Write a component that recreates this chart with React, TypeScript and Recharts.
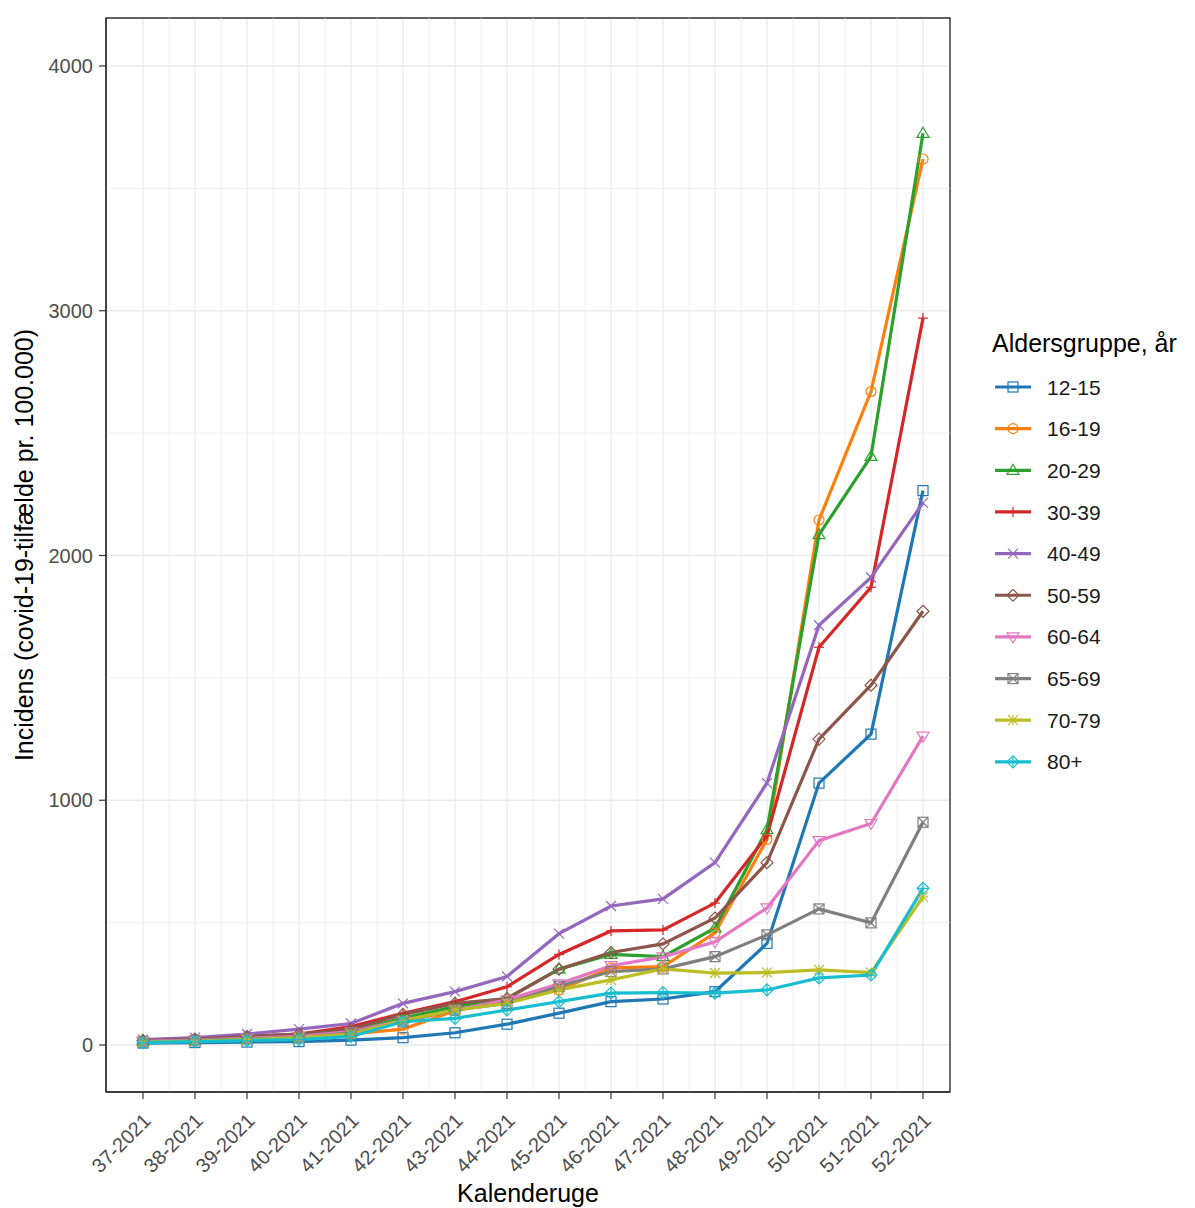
import React from 'react';
import { LineChart, Line, XAxis, YAxis, CartesianGrid, ReferenceLine, ReferenceArea, Label } from 'recharts';

// weeks on the x axis
const WEEKS = [
    '37-2021', '38-2021', '39-2021', '40-2021', '41-2021', '42-2021', '43-2021', '44-2021',
    '45-2021', '46-2021', '47-2021', '48-2021', '49-2021', '50-2021', '51-2021', '52-2021',
];

const GROUPS = ['12-15', '16-19', '20-29', '30-39', '40-49', '50-59', '60-64', '65-69', '70-79', '80+'];

const COLORS = [
    '#1f77b4', '#ff7f0e', '#2ca02c', '#d62728', '#9467bd',
    '#8c564b', '#e377c2', '#7f7f7f', '#bcbd22', '#17becf',
];

// incidence per 100.000
const AGE_12_15 = [8, 10, 12, 14, 20, 30, 50, 85, 130, 177, 188, 218, 415, 1070, 1270, 2265];
const AGE_16_19 = [15, 20, 25, 30, 45, 65, 140, 180, 225, 315, 320, 458, 840, 2145, 2670, 3620];
const AGE_20_29 = [18, 22, 30, 38, 55, 110, 157, 190, 310, 370, 361, 478, 880, 2085, 2405, 3725];
const AGE_30_39 = [20, 25, 35, 45, 75, 130, 177, 238, 370, 466, 470, 580, 855, 1625, 1870, 2970];
const AGE_40_49 = [22, 30, 45, 65, 88, 170, 218, 280, 455, 568, 597, 745, 1070, 1715, 1910, 2215];
const AGE_50_59 = [18, 24, 35, 45, 65, 125, 170, 190, 310, 378, 413, 519, 745, 1250, 1470, 1772];
const AGE_60_64 = [15, 20, 28, 35, 55, 100, 143, 185, 250, 324, 360, 422, 560, 835, 905, 1262];
const AGE_65_69 = [12, 18, 25, 30, 50, 95, 143, 170, 240, 300, 311, 361, 450, 556, 499, 910];
const AGE_70_79 = [12, 16, 22, 30, 45, 100, 143, 170, 225, 266, 311, 294, 296, 307, 296, 605];
const AGE_80P = [10, 14, 18, 22, 35, 95, 109, 143, 177, 212, 214, 212, 225, 274, 286, 640];

const SERIES = [
    AGE_12_15, AGE_16_19, AGE_20_29, AGE_30_39, AGE_40_49,
    AGE_50_59, AGE_60_64, AGE_65_69, AGE_70_79, AGE_80P,
];

const Y_TICKS = [0, 1000, 2000, 3000, 4000];
const Y_MINOR = [500, 1500, 2500, 3500];
const Y_DOMAIN: [number, number] = [-192, 4196];

const FONT = '"Liberation Sans", Arial, sans-serif';
const TEXT_COLOR = '#4d4d4d';
const GRID_COLOR = '#ebebeb';
const LINE_W = 3.2;

// discrete axis padding in px (ggplot expansion), converted to index units for the hidden numeric axis
const PAD_L = 37;
const PAD_R = 27;
const PLOT_W = 844;
const STEP = (PLOT_W - PAD_L - PAD_R) / (WEEKS.length - 1);
const IDX_DOMAIN: [number, number] = [-PAD_L / STEP, WEEKS.length - 1 + PAD_R / STEP];
const X_MINOR = WEEKS.slice(1).map((_, i) => i + 0.5);

const data = WEEKS.map((week, i) => {
    const row: Record<string, string | number> = { week, idx: i };
    GROUPS.forEach((g, k) => {
        row[g] = SERIES[k][i];
    });
    return row;
});

// ggplot shapes 0..9
function Marker({ shape, cx, cy, color }: { shape: number; cx: number; cy: number; color: string }) {
    const r = 5;
    const s = { fill: 'none', stroke: color, strokeWidth: 1.2 };
    const plus = (
        <>
            <line x1={cx - r} y1={cy} x2={cx + r} y2={cy} {...s} />
            <line x1={cx} y1={cy - r} x2={cx} y2={cy + r} {...s} />
        </>
    );
    const cross = (
        <>
            <line x1={cx - r} y1={cy - r} x2={cx + r} y2={cy + r} {...s} />
            <line x1={cx - r} y1={cy + r} x2={cx + r} y2={cy - r} {...s} />
        </>
    );
    const diamond = <polygon points={`${cx},${cy - r - 1} ${cx + r + 1},${cy} ${cx},${cy + r + 1} ${cx - r - 1},${cy}`} {...s} />;
    switch (shape) {
        case 0:
            return <rect x={cx - r} y={cy - r} width={2 * r} height={2 * r} {...s} />;
        case 1:
            return <circle cx={cx} cy={cy} r={r} {...s} />;
        case 2:
            return <polygon points={`${cx},${cy - r - 1} ${cx + r + 1},${cy + r - 1} ${cx - r - 1},${cy + r - 1}`} {...s} />;
        case 3:
            return <g>{plus}</g>;
        case 4:
            return <g>{cross}</g>;
        case 5:
            return diamond;
        case 6:
            return <polygon points={`${cx},${cy + r + 1} ${cx + r + 1},${cy - r + 1} ${cx - r - 1},${cy - r + 1}`} {...s} />;
        case 7:
            return (
                <g>
                    <rect x={cx - r} y={cy - r} width={2 * r} height={2 * r} {...s} />
                    {cross}
                </g>
            );
        case 8:
            return (
                <g>
                    {plus}
                    {cross}
                </g>
            );
        default:
            return (
                <g>
                    {diamond}
                    {plus}
                </g>
            );
    }
}

const XTick = ({ x, y, payload }: any) => (
    <text
        transform={`translate(${x + 9},${y + 21}) rotate(-45)`}
        textAnchor="end"
        fontSize={20}
        fontFamily={FONT}
        fill={TEXT_COLOR}
    >
        {payload.value}
    </text>
);

export default function App() {
    return (
        <div style={{ position: 'relative', width: 1187, height: 1200 }}>
            <LineChart width={1187} height={1200} data={data} margin={{ top: 10, right: 245, bottom: 0, left: 0 }}>
                <CartesianGrid stroke={GRID_COLOR} strokeWidth={1.4} />
                {Y_MINOR.map((v) => (
                    <ReferenceLine key={`ym${v}`} y={v} xAxisId="num" stroke={GRID_COLOR} strokeWidth={0.8} />
                ))}
                {X_MINOR.map((v) => (
                    <ReferenceLine key={`xm${v}`} x={v} xAxisId="num" stroke={GRID_COLOR} strokeWidth={0.8} />
                ))}
                <XAxis
                    dataKey="week"
                    interval={0}
                    padding={{ left: PAD_L, right: PAD_R }}
                    height={116}
                    tick={<XTick />}
                    tickSize={7}
                    tickLine={{ stroke: '#333333', strokeWidth: 1.2 }}
                    axisLine={{ stroke: '#333333', strokeWidth: 1.4 }}
                >
                    <Label
                        content={({ viewBox }: any) => (
                            <text
                                x={viewBox.x + viewBox.width / 2}
                                y={viewBox.y + 110}
                                textAnchor="middle"
                                fontSize={25}
                                fontFamily={FONT}
                                fill="#000"
                            >
                                Kalenderuge
                            </text>
                        )}
                    />
                </XAxis>
                <XAxis xAxisId="num" dataKey="idx" type="number" domain={IDX_DOMAIN} allowDataOverflow hide />
                <YAxis
                    width={98}
                    domain={Y_DOMAIN}
                    ticks={Y_TICKS}
                    allowDataOverflow
                    tickSize={7}
                    tickMargin={6}
                    tick={{ fontSize: 20, fontFamily: FONT, fill: TEXT_COLOR }}
                    tickLine={{ stroke: '#333333', strokeWidth: 1.2 }}
                    axisLine={{ stroke: '#333333', strokeWidth: 1.4 }}
                >
                    <Label
                        content={({ viewBox }: any) => {
                            const cx = 25;
                            const cy = viewBox.y + viewBox.height / 2 - 10;
                            return (
                                <text
                                    transform={`translate(${cx},${cy}) rotate(-90)`}
                                    textAnchor="middle"
                                    fontSize={25}
                                    fontFamily={FONT}
                                    fill="#000"
                                >
                                    Incidens (covid-19-tilfælde pr. 100.000)
                                </text>
                            );
                        }}
                    />
                </YAxis>
                {GROUPS.map((g, k) => (
                    <Line
                        key={g}
                        dataKey={g}
                        stroke={COLORS[k]}
                        strokeWidth={LINE_W}
                        isAnimationActive={false}
                        activeDot={false}
                        dot={(p: any) => <Marker key={`${g}-${p.index}`} shape={k} cx={p.cx} cy={p.cy} color={COLORS[k]} />}
                    />
                ))}
                <ReferenceArea
                    xAxisId="num"
                    x1={IDX_DOMAIN[0]}
                    x2={IDX_DOMAIN[1]}
                    y1={Y_DOMAIN[0]}
                    y2={Y_DOMAIN[1]}
                    fill="none"
                    fillOpacity={0}
                    stroke="#333333"
                    strokeWidth={1.4}
                />
            </LineChart>
            <svg
                width={1187}
                height={1200}
                style={{ position: 'absolute', left: 0, top: 0, pointerEvents: 'none' }}
            >
                <text x={984} y={344} fontSize={25} fontFamily={FONT} fill="#000">
                    Aldersgruppe, år
                </text>
                {GROUPS.map((g, k) => {
                    const cy = 379 + k * 41.65;
                    return (
                        <g key={g}>
                            <line x1={987} y1={cy} x2={1023} y2={cy} stroke={COLORS[k]} strokeWidth={LINE_W} />
                            <Marker shape={k} cx={1005} cy={cy} color={COLORS[k]} />
                            <text x={1039} y={cy} dy="0.36em" fontSize={21} fontFamily={FONT} fill="#1a1a1a">
                                {g}
                            </text>
                        </g>
                    );
                })}
            </svg>
        </div>
    );
}
